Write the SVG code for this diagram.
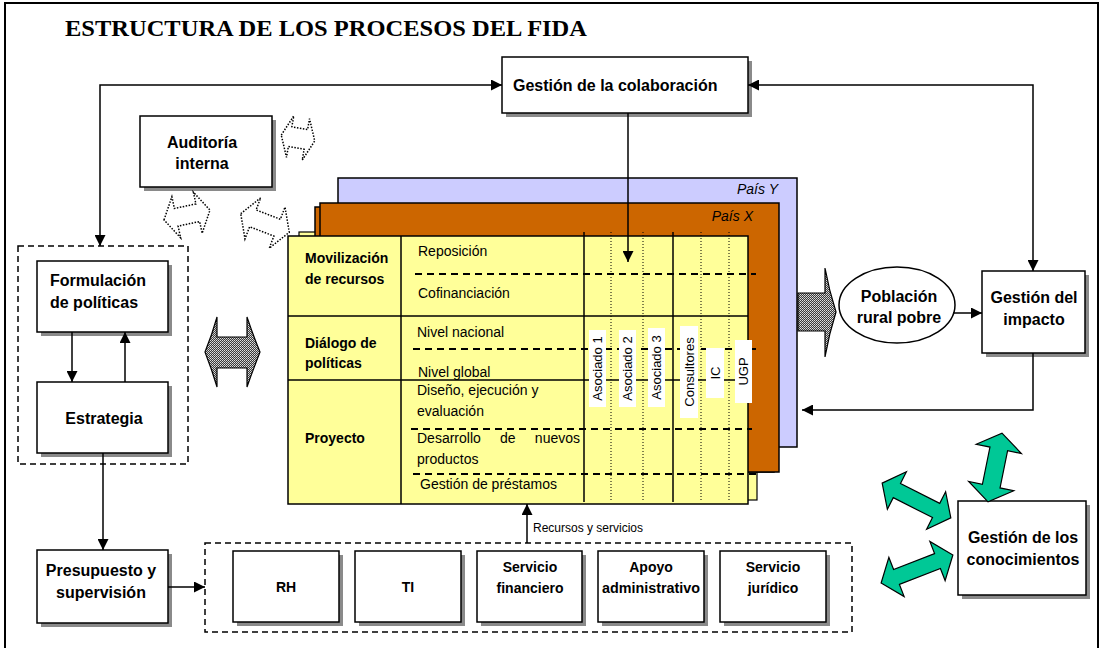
<svg xmlns="http://www.w3.org/2000/svg" width="1101" height="648" viewBox="0 0 1101 648">
<defs>
<style>
.box{fill:#fff;stroke:#000;stroke-width:1.5}
.sh{fill:#8a8a8a}
.lbl{font-family:"Liberation Sans",Arial,sans-serif;font-size:16px;font-weight:bold;fill:#000}
.t14{font-family:"Liberation Sans",Arial,sans-serif;font-size:14px;fill:#000}
.b14{font-family:"Liberation Sans",Arial,sans-serif;font-size:14px;font-weight:bold;fill:#000}
.rot{font-family:"Liberation Sans",Arial,sans-serif;font-size:13px;fill:#000}
.pais{font-family:"Liberation Sans",Arial,sans-serif;font-size:14px;font-style:italic;fill:#000}
.con{fill:none;stroke:#000;stroke-width:1.5}
.dash{fill:none;stroke:#000;stroke-width:1.5;stroke-dasharray:6 4}
.tdash{fill:none;stroke:#000;stroke-width:2;stroke-dasharray:7 5}
.dot{fill:none;stroke:#000;stroke-width:1;stroke-dasharray:1 2}
.sol{fill:none;stroke:#000;stroke-width:1.5}
.wl{fill:#fff}
.green{fill:#00C896;stroke:#000;stroke-width:1.2}
.hollow{fill:#fff;stroke:#000;stroke-width:1.5;stroke-dasharray:1.5 1.5}
.tex{fill:url(#chk);stroke:#000;stroke-width:1.2}
</style>
<marker id="ah" viewBox="0 0 10 10" refX="10" refY="5" markerWidth="11" markerHeight="11" markerUnits="userSpaceOnUse" orient="auto-start-reverse">
<path d="M0,0 L10,5 L0,10 z" fill="#000"/>
</marker>
<pattern id="chk" width="2" height="2" patternUnits="userSpaceOnUse">
<rect width="2" height="2" fill="#3a3a3a"/>
<rect width="1" height="1" fill="#e0e0e0"/>
<rect x="1" y="1" width="1" height="1" fill="#bdbdbd"/>
</pattern>
</defs>

<!-- frame -->
<rect x="0" y="0" width="1101" height="648" fill="#fff"/>
<path d="M5,648 V3 H1098 V648" fill="none" stroke="#000" stroke-width="2"/>

<text x="65" y="36" font-family="'Liberation Serif','Times New Roman',serif" font-size="24" font-weight="bold" textLength="522" lengthAdjust="spacingAndGlyphs">ESTRUCTURA DE LOS PROCESOS DEL FIDA</text>

<!-- country stack -->
<g id="pais-y">
<rect x="338" y="178" width="459" height="269" fill="#CCCCFF" stroke="#000" stroke-width="1.5"/>
<text class="pais" x="778" y="194" text-anchor="end">País Y</text>
</g>
<rect x="299" y="232" width="458" height="268" fill="#FFFF99" stroke="#000" stroke-width="1.2"/>
<rect x="315" y="207" width="459" height="265" fill="#CC6600" stroke="#000" stroke-width="1.5"/>
<g id="pais-x">
<rect x="320" y="203" width="459" height="269" fill="#CC6600" stroke="#000" stroke-width="1.5"/>
<text class="pais" x="753" y="221" text-anchor="end">País X</text>
</g>

<g id="tabla">
<rect x="288" y="236" width="460" height="268" fill="#FFFF99" stroke="#000" stroke-width="1.5"/>
<line class="sol" x1="401" y1="236" x2="401" y2="504"/>
<line class="sol" x1="288" y1="316" x2="748" y2="316"/>
<line class="sol" x1="288" y1="380" x2="748" y2="380"/>
<line class="sol" x1="584" y1="232" x2="584" y2="502"/>
<line class="sol" x1="673" y1="232" x2="673" y2="502"/>
<line class="dot" x1="611" y1="232" x2="611" y2="502"/>
<line class="dot" x1="643" y1="232" x2="643" y2="502"/>
<line class="dot" x1="701" y1="232" x2="701" y2="502"/>
<line class="dot" x1="729" y1="232" x2="729" y2="502"/>
<line class="tdash" x1="415" y1="274" x2="756" y2="274"/>
<line class="tdash" x1="413" y1="349" x2="756" y2="349"/>
<line class="tdash" x1="411" y1="429" x2="752" y2="429"/>
<line class="tdash" x1="413" y1="474" x2="756" y2="474"/>

<text class="b14" x="305" y="263">Movilización</text>
<text class="b14" x="305" y="284">de recursos</text>
<text class="b14" x="305" y="348">Diálogo de</text>
<text class="b14" x="305" y="368">políticas</text>
<text class="b14" x="305" y="443">Proyecto</text>

<text class="t14" x="418" y="256">Reposición</text>
<text class="t14" x="418" y="298">Cofinanciación</text>
<text class="t14" x="417" y="337">Nivel nacional</text>
<text class="t14" x="418" y="377">Nivel global</text>
<text class="t14" x="417" y="395">Diseño, ejecución y</text>
<text class="t14" x="417" y="416">evaluación</text>
<text class="t14" x="417" y="443">Desarrollo</text>
<text class="t14" x="500" y="443">de</text>
<text class="t14" x="580" y="443" text-anchor="end">nuevos</text>
<text class="t14" x="417" y="464">productos</text>
<text class="t14" x="420" y="489">Gestión de préstamos</text>

<rect class="wl" x="589" y="330" width="17" height="77"/>
<rect class="wl" x="619" y="330" width="17" height="77"/>
<rect class="wl" x="648" y="328" width="17" height="79"/>
<rect class="wl" x="680" y="326" width="18" height="92"/>
<rect class="wl" x="706" y="348" width="18" height="50"/>
<rect class="wl" x="735" y="340" width="17" height="63"/>
<text class="rot" transform="translate(597.5,368.5) rotate(-90)" text-anchor="middle" dominant-baseline="central">Asociado 1</text>
<text class="rot" transform="translate(627.5,368.5) rotate(-90)" text-anchor="middle" dominant-baseline="central">Asociado 2</text>
<text class="rot" transform="translate(656.5,367.5) rotate(-90)" text-anchor="middle" dominant-baseline="central">Asociado 3</text>
<text class="rot" transform="translate(689,372) rotate(-90)" text-anchor="middle" dominant-baseline="central">Consultores</text>
<text class="rot" transform="translate(715,373) rotate(-90)" text-anchor="middle" dominant-baseline="central">IC</text>
<text class="rot" transform="translate(743.5,371.5) rotate(-90)" text-anchor="middle" dominant-baseline="central">UGP</text>
</g>

<!-- nodes -->
<g id="colaboracion">
<rect class="sh" x="506" y="61" width="246" height="56"/>
<rect class="box" x="502" y="57" width="246" height="56"/>
<text class="lbl" x="513" y="91">Gestión de la colaboración</text>
</g>

<g id="auditoria">
<rect class="sh" x="144" y="120" width="132" height="71"/>
<rect class="box" x="140" y="116" width="132" height="71"/>
<text class="lbl" x="202" y="148" text-anchor="middle">Auditoría</text>
<text class="lbl" x="202" y="169" text-anchor="middle">interna</text>
</g>

<g id="grupo-politicas">
<rect class="dash" x="18" y="246" width="170" height="218"/>
</g>

<g id="formulacion">
<rect class="sh" x="41" y="265" width="131" height="71"/>
<rect class="box" x="37" y="261" width="131" height="71"/>
<text class="lbl" x="50" y="286">Formulación</text>
<text class="lbl" x="50" y="308">de políticas</text>
</g>

<g id="estrategia">
<rect class="sh" x="41" y="386" width="131" height="71"/>
<rect class="box" x="37" y="382" width="131" height="71"/>
<text class="lbl" x="104" y="424" text-anchor="middle">Estrategia</text>
</g>

<g id="presupuesto">
<rect class="sh" x="41" y="554" width="131" height="73"/>
<rect class="box" x="37" y="550" width="131" height="73"/>
<text class="lbl" x="101" y="576" text-anchor="middle">Presupuesto y</text>
<text class="lbl" x="101" y="598" text-anchor="middle">supervisión</text>
</g>

<g id="servicios">
<rect class="dash" x="205" y="543" width="647" height="89"/>
</g>
<g id="rh">
<rect class="sh" x="237" y="555" width="106" height="71"/>
<rect class="box" x="233" y="551" width="106" height="71"/>
<text class="b14" x="286" y="592" text-anchor="middle">RH</text>
</g>
<g id="ti">
<rect class="sh" x="359" y="555" width="106" height="71"/>
<rect class="box" x="355" y="551" width="106" height="71"/>
<text class="b14" x="408" y="592" text-anchor="middle">TI</text>
</g>
<g id="financiero">
<rect class="sh" x="481" y="555" width="105" height="71"/>
<rect class="box" x="477" y="551" width="105" height="71"/>
<text class="b14" x="530" y="572" text-anchor="middle">Servicio</text>
<text class="b14" x="530" y="593" text-anchor="middle">financiero</text>
</g>
<g id="apoyo">
<rect class="sh" x="602" y="555" width="106" height="71"/>
<rect class="box" x="598" y="551" width="106" height="71"/>
<text class="b14" x="651" y="572" text-anchor="middle">Apoyo</text>
<text class="b14" x="651" y="593" text-anchor="middle" textLength="98" lengthAdjust="spacingAndGlyphs">administrativo</text>
</g>
<g id="juridico">
<rect class="sh" x="724" y="555" width="106" height="71"/>
<rect class="box" x="720" y="551" width="106" height="71"/>
<text class="b14" x="773" y="572" text-anchor="middle">Servicio</text>
<text class="b14" x="773" y="593" text-anchor="middle">jurídico</text>
</g>

<g id="poblacion">
<ellipse class="box" cx="897" cy="305" rx="58" ry="38"/>
<text class="lbl" x="899" y="302" text-anchor="middle">Población</text>
<text class="lbl" x="899" y="323" text-anchor="middle">rural pobre</text>
</g>

<g id="impacto">
<rect class="sh" x="986" y="275" width="103" height="82"/>
<rect class="box" x="982" y="271" width="103" height="82"/>
<text class="lbl" x="1034" y="303" text-anchor="middle">Gestión del</text>
<text class="lbl" x="1034" y="325" text-anchor="middle">impacto</text>
</g>

<g id="conocimientos">
<rect class="sh" x="962" y="505" width="128" height="94"/>
<rect class="box" x="958" y="501" width="128" height="94"/>
<text class="lbl" x="1023" y="543" text-anchor="middle">Gestión de los</text>
<text class="lbl" x="1023" y="565" text-anchor="middle">conocimientos</text>
</g>

<!-- connectors -->
<g id="connectors">
<path class="con" d="M502,85 H100 V246" marker-start="url(#ah)" marker-end="url(#ah)"/>
<path class="con" d="M748,85 H1033 V271" marker-start="url(#ah)" marker-end="url(#ah)"/>
<path class="con" d="M628,113 V262" marker-end="url(#ah)"/>
<path class="con" d="M1033,353 V410 H802" marker-end="url(#ah)"/>
<path class="con" d="M953,313 H982" marker-end="url(#ah)"/>
<path class="con" d="M72,332 V382" marker-end="url(#ah)"/>
<path class="con" d="M125,382 V332" marker-end="url(#ah)"/>
<path class="con" d="M103,453 V550" marker-end="url(#ah)"/>
<path class="con" d="M168,587 H205" marker-end="url(#ah)"/>
<path class="con" d="M527,543 V504" marker-end="url(#ah)"/>
<text x="533" y="532" font-family="'Liberation Sans',Arial,sans-serif" font-size="12">Recursos y servicios</text>

<!-- textured block arrows -->
<path class="tex" d="M798,293 H825 V268 Q829,290 836,312 Q829,334 825,357 V331 H798 Z"/>
<path class="tex" d="M217,317 Q212,335 205,352 Q212,370 217,387 V368 H247 V387 Q253,370 260,352 Q253,335 247,317 V337 H217 Z"/>

<!-- dotted hollow double arrows -->
<polygon class="hollow" transform="translate(298,138) rotate(10)" points="-17,0 -8,-21 -8,-10 8,-10 8,-21 17,0 8,21 8,10 -8,10 -8,21"/>
<polygon class="hollow" transform="translate(187,215) rotate(-12)" points="-23.5,0 -11,-21 -11,-9 11,-9 11,-21 23.5,0 11,21 11,9 -11,9 -11,21"/>
<polygon class="hollow" transform="translate(265,223) rotate(21)" points="-26,0 -13,-22 -13,-9 13,-9 13,-22 26,0 13,22 13,9 -13,9 -13,22"/>

<!-- green double arrows -->
<polygon class="green" transform="translate(995,467.5) rotate(101.5)" points="-35,0 -19,-23 -19,-9 19,-9 19,-23 35,0 19,23 19,9 -19,9 -19,23"/>
<polygon class="green" transform="translate(916.5,500.5) rotate(26.9)" points="-38.5,0 -22,-21 -22,-8 22,-8 22,-21 38.5,0 22,21 22,8 -22,8 -22,21"/>
<polygon class="green" transform="translate(917,569) rotate(-21.3)" points="-38.5,0 -22,-21 -22,-8 22,-8 22,-21 38.5,0 22,21 22,8 -22,8 -22,21"/>
</g>
</svg>
